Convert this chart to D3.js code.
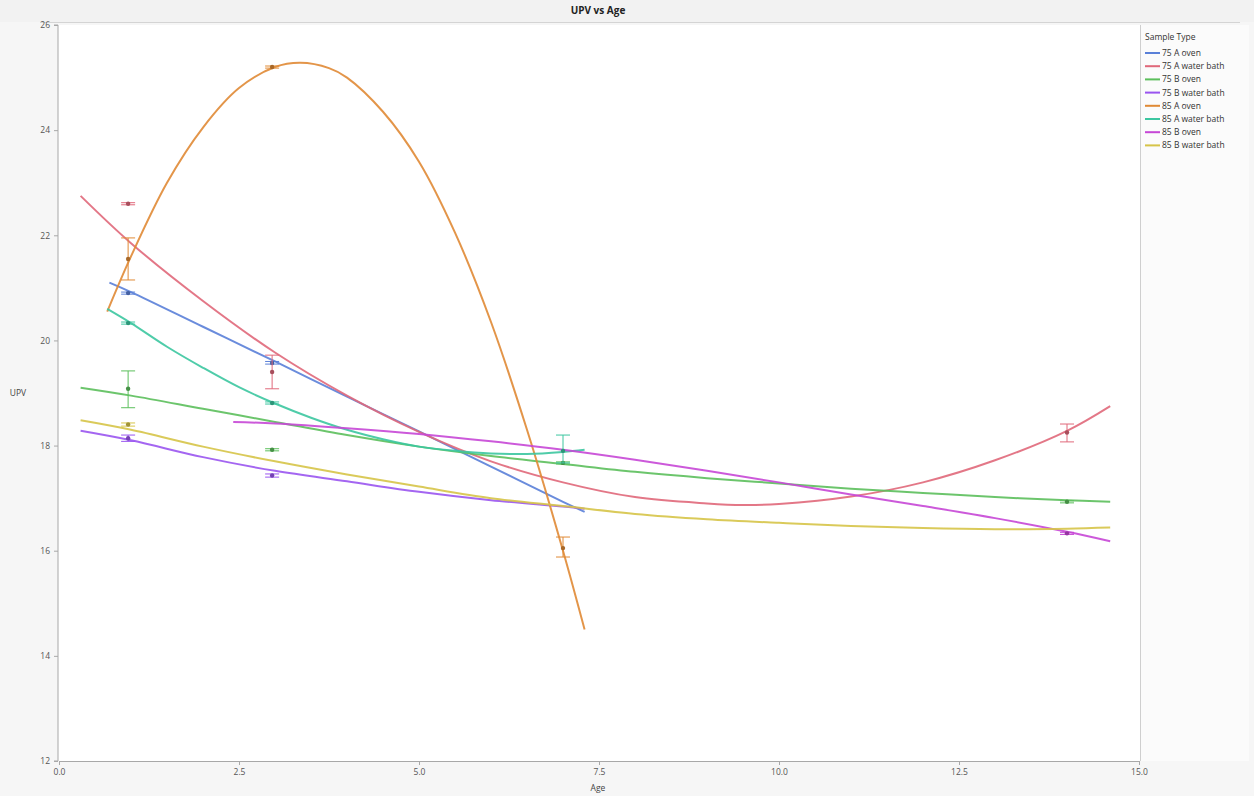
<!DOCTYPE html>
<html>
<head>
<meta charset="utf-8">
<script src="https://cdn.jsdelivr.net/npm/d3@7"></script>
<style>
html,body{margin:0;padding:0;background:#f6f6f6;}
svg{display:block;font-family:"Open Sans","DejaVu Sans",sans-serif;}
</style>
</head>
<body>
<svg id="chart" width="1254" height="796"></svg>
<script>
// ---- data ----
const seriesNames = ["75 A oven","75 A water bath","75 B oven","75 B water bath","85 A oven","85 A water bath","85 B oven","85 B water bath"];
const seriesColors = ["#5a80d8","#e0687a","#5cbf5c","#9a55f0","#e08a35","#3cc6a0","#c647d6","#d6c448"];

// fitted curves: [age, UPV]
const fit75AOven = [[0.7,21.1],[1,20.92],[2,20.26],[3,19.6],[4,18.93],[5,18.27],[6,17.6],[7,16.93],[7.3,16.74]];
const fit75AWater = [[0.3,22.75],[1,21.85],[2,20.75],[3,19.77],[4,18.95],[5,18.26],[6,17.7],[7,17.3],[8,17.02],[9,16.9],[9.5,16.87],[10,16.89],[11,17.03],[12,17.3],[13,17.72],[14,18.28],[14.6,18.75]];
const fit75BOven = [[0.3,19.1],[1,18.95],[2,18.7],[3,18.45],[4,18.2],[5,17.98],[6,17.8],[7,17.65],[8,17.5],[9,17.38],[10,17.28],[11,17.18],[12,17.1],[13,17.02],[14,16.96],[14.6,16.93]];
const fit75BWater = [[0.3,18.28],[1,18.1],[2,17.78],[3,17.52],[4,17.32],[5,17.12],[6,16.96],[7,16.84],[7.3,16.8]];
const fit85AOven = [[0.67,20.55],[1,21.6],[1.5,23.0],[2,24.05],[2.5,24.8],[3,25.2],[3.35,25.28],[3.75,25.18],[4,25.0],[4.5,24.35],[5,23.4],[5.5,22.05],[6,20.35],[6.5,18.3],[7,16.0],[7.3,14.5]];
const fit85AWater = [[0.67,20.6],[1,20.33],[1.5,19.88],[2,19.48],[2.5,19.11],[3,18.8],[3.5,18.53],[4,18.3],[4.5,18.12],[5,17.98],[5.5,17.9],[6,17.85],[6.5,17.84],[7,17.88],[7.3,17.92]];
const fit85BOven = [[2.42,18.45],[3,18.42],[4,18.33],[5,18.22],[6,18.08],[7,17.92],[8,17.73],[9,17.52],[10,17.3],[11,17.07],[12,16.85],[13,16.62],[14,16.36],[14.6,16.18]];
const fit85BWater = [[0.3,18.48],[1,18.3],[2,17.98],[3,17.7],[4,17.45],[5,17.22],[6,17.0],[7,16.85],[8,16.7],[9,16.6],[10,16.53],[11,16.47],[12,16.43],[13,16.41],[14,16.42],[14.6,16.44]];
const fits = [fit75AOven, fit75AWater, fit75BOven, fit75BWater, fit85AOven, fit85AWater, fit85BOven, fit85BWater];

// group means with error bars: [seriesIndex, age, mean, low, high]
const means = [
  [0,0.96,20.9,20.88,20.92],[0,2.96,19.57,19.55,19.6],
  [1,0.96,22.6,22.58,22.62],[1,2.96,19.4,19.08,19.72],[1,14,18.25,18.07,18.41],
  [2,0.96,19.08,18.72,19.42],[2,2.96,17.92,17.9,17.94],[2,7,17.67,17.65,17.69],[2,14,16.93,16.91,16.95],
  [3,0.96,18.14,18.08,18.2],[3,2.96,17.43,17.4,17.46],
  [4,0.96,21.55,21.15,21.95],[4,2.96,25.2,25.18,25.22],[4,7,16.05,15.88,16.26],
  [5,0.96,20.33,20.31,20.35],[5,2.96,18.81,18.79,18.83],[5,7,17.9,17.67,18.2],
  [6,14,16.33,16.31,16.35],
  [7,0.96,18.4,18.37,18.43]
];

const xTicks = [0,2.5,5,7.5,10,12.5,15];
const yTicks = [12,14,16,18,20,22,24,26];

// ---- layout ----
const svg = d3.select("#chart");
const W = 1254, H = 796;
const L = 58, R = 1140, T = 25, B = 761;

const x = d3.scaleLinear().domain([0,15]).range([L+1,R-1]);
const y = d3.scaleLinear().domain([12,26]).range([B,T]);

// title bar
svg.append("rect").attr("x",0).attr("y",0).attr("width",W).attr("height",22).attr("fill","#f2f2f2");
svg.append("line").attr("x1",40).attr("x2",W-14).attr("y1",22.5).attr("y2",22.5).attr("stroke","#d4d4d4");
svg.append("text").attr("x",598).attr("y",14).attr("text-anchor","middle")
  .attr("font-size",10).attr("font-weight","bold").attr("fill","#222").text("UPV vs Age");

// plot background
svg.append("rect").attr("x",L).attr("y",T).attr("width",R-L).attr("height",B-T).attr("fill","#ffffff");
// legend panel
svg.append("rect").attr("x",R+1).attr("y",T).attr("width",W-R-6).attr("height",B-T).attr("fill","#fbfbfb");
svg.append("line").attr("x1",R+0.5).attr("x2",R+0.5).attr("y1",T).attr("y2",B).attr("stroke","#cfcfcf");

// axes
const xAxis = d3.axisBottom(x).tickValues(xTicks).tickFormat(d3.format(".1f")).tickSize(4).tickPadding(4);
const gx = svg.append("g").attr("transform",`translate(0,${B})`).call(xAxis);
const yAxis = d3.axisLeft(y).tickValues(yTicks).tickFormat(d3.format("d")).tickSize(4).tickPadding(4);
const gy = svg.append("g").attr("transform",`translate(${L},0)`).call(yAxis);
[gx,gy].forEach(g=>{
  g.select(".domain").attr("stroke","#a8a8a8");
  g.selectAll(".tick line").attr("stroke","#a8a8a8");
  g.selectAll(".tick text").attr("fill","#555").attr("font-size",8.5).attr("font-family","'Open Sans','DejaVu Sans',sans-serif");
});
gy.select(".domain").attr("d",`M-4,${B}H0V${T}H-4`);

svg.append("text").attr("x",598).attr("y",791).attr("text-anchor","middle").attr("font-size",8.5).attr("fill","#444").text("Age");
svg.append("text").attr("x",18).attr("y",396).attr("text-anchor","middle").attr("font-size",8.5).attr("fill","#444").text("UPV");

// fit lines
const line = d3.line().x(d=>x(d[0])).y(d=>y(d[1])).curve(d3.curveCatmullRom.alpha(0.5));
const plot = svg.append("g");
fits.forEach((f,i)=>{
  plot.append("path").attr("d",line(f)).attr("fill","none")
    .attr("stroke",seriesColors[i]).attr("stroke-width",2).attr("stroke-opacity",0.9);
});

// means & error bars
const capW = 7;
means.forEach(m=>{
  const c = seriesColors[m[0]];
  const cx = x(m[1]);
  const g = plot.append("g");
  g.append("line").attr("x1",cx).attr("x2",cx).attr("y1",y(m[3])).attr("y2",y(m[4])).attr("stroke",c).attr("stroke-width",1);
  g.append("line").attr("x1",cx-capW).attr("x2",cx+capW).attr("y1",y(m[3])).attr("y2",y(m[3])).attr("stroke",c).attr("stroke-width",1);
  g.append("line").attr("x1",cx-capW).attr("x2",cx+capW).attr("y1",y(m[4])).attr("y2",y(m[4])).attr("stroke",c).attr("stroke-width",1);
  g.append("circle").attr("cx",cx).attr("cy",y(m[2])).attr("r",2.2).attr("fill",d3.color(c).darker(0.8));
});

// legend
const lg = svg.append("g");
lg.append("text").attr("x",1145).attr("y",40).attr("font-size",8.5).attr("fill","#333").text("Sample Type");
seriesNames.forEach((n,i)=>{
  const yy = 53 + i*13.2;
  lg.append("line").attr("x1",1145).attr("x2",1160).attr("y1",yy).attr("y2",yy).attr("stroke",seriesColors[i]).attr("stroke-width",2);
  lg.append("text").attr("x",1162).attr("y",yy+3).attr("font-size",8.5).attr("fill","#333").text(n);
});
</script>
</body>
</html>
